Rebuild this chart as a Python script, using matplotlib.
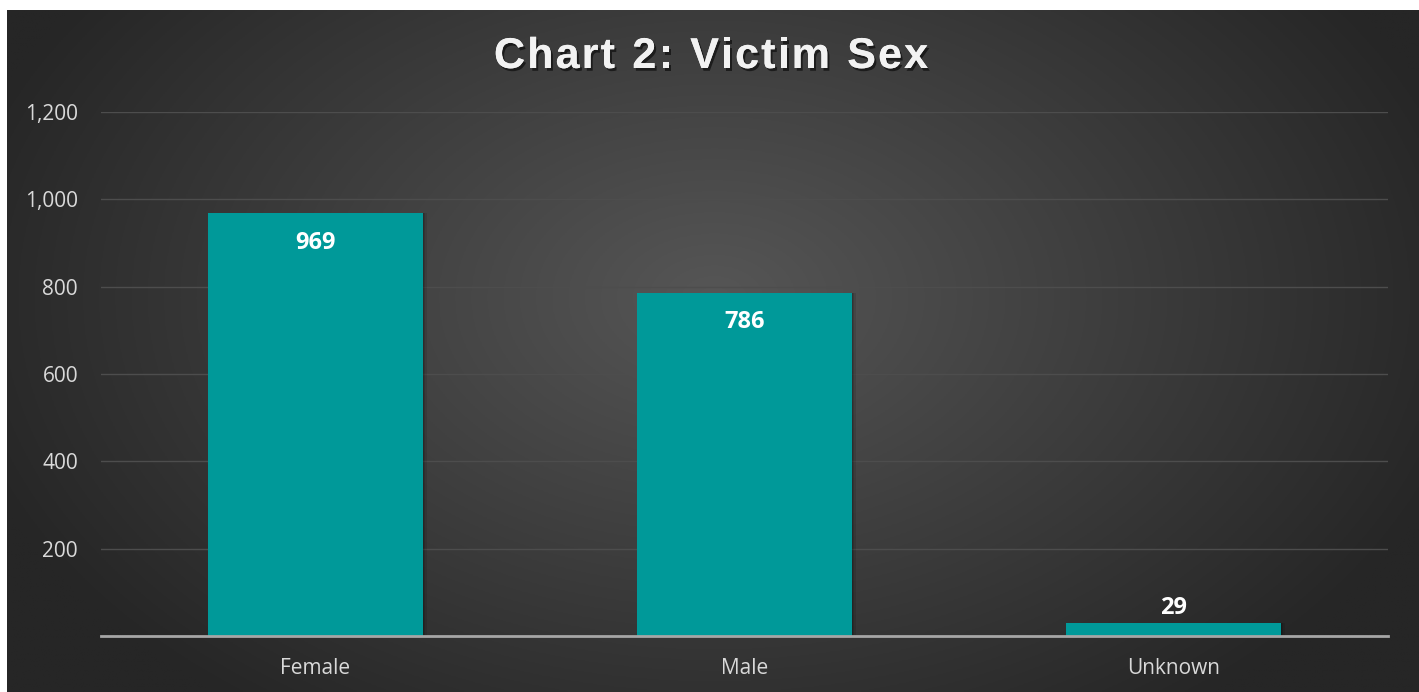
import numpy as np
import matplotlib
matplotlib.use("Agg")
import matplotlib.pyplot as plt
import matplotlib.patheffects as pe
from matplotlib.ticker import FuncFormatter

categories = ["Female", "Male", "Unknown"]
values = [969, 786, 29]
yticks = [200, 400, 600, 800, 1000, 1200]
title = "Chart 2: Victim Sex"

W, H, DPI = 1419, 692, 100
fig = plt.figure(figsize=(W / DPI, H / DPI), dpi=DPI, facecolor="white")

# background panel with radial gradient
bx0, by0 = 7 / W, 0.0
bw, bh = 1 - bx0, 1 - 10 / H
bg = fig.add_axes([bx0, by0, bw, bh])
bg.set_axis_off()
ny, nx = 300, 600
yy, xx = np.mgrid[0:ny, 0:nx]
cx, cy = nx * 0.5, ny * 0.42
r = np.sqrt(((xx - cx) / (nx * 0.55)) ** 2 + ((yy - cy) / (ny * 0.75)) ** 2)
r = np.clip(r, 0, 1)
inner = np.array([0x56, 0x56, 0x56]) / 255
outer = np.array([0x26, 0x26, 0x26]) / 255
img = inner[None, None, :] * (1 - r[..., None]) + outer[None, None, :] * r[..., None]
bg.imshow(img, aspect="auto", extent=[0, 1, 0, 1], origin="upper")
bg.set_xlim(0, 1)
bg.set_ylim(0, 1)

# plot area
px0, px1 = 101 / W, 1388 / W
py_top, py_bot = 112 / H, 636 / H
ax = fig.add_axes([px0, 1 - py_bot, px1 - px0, py_bot - py_top])
ax.set_facecolor("none")
ax.patch.set_alpha(0)

x = np.arange(len(categories))
# soft shadow
for k, a in [(0.010, 0.10), (0.006, 0.12), (0.003, 0.15)]:
    ax.bar(x + k, values, width=0.5, color="black", alpha=a, zorder=2, linewidth=0)
bars = ax.bar(x, values, width=0.5, color="#009999", zorder=3, linewidth=0)

ax.set_xlim(-0.5, len(categories) - 0.5)
ax.set_ylim(0, 1200)
ax.set_yticks(yticks)
ax.yaxis.set_major_formatter(FuncFormatter(lambda v, p: f"{int(v):,}"))
ax.set_xticks(x)
ax.set_xticklabels(categories)
ax.grid(axis="y", color="#4d4d4d", linewidth=1.0, zorder=0)
ax.set_axisbelow(True)
for s in ["top", "right", "left"]:
    ax.spines[s].set_visible(False)
ax.spines["bottom"].set_color("#a6a6a6")
ax.spines["bottom"].set_linewidth(2)
ax.spines["bottom"].set_zorder(4)
ax.tick_params(axis="both", length=0, colors="#d9d9d9", labelsize=15)
ax.tick_params(axis="y", pad=16.5)
ax.tick_params(axis="x", pad=15.5)
for lab in ax.get_xticklabels() + ax.get_yticklabels():
    lab.set_fontfamily("Open Sans")
    lab.set_color("#d9d9d9")

for xi, v in zip(x, values):
    if v > 100:
        ax.text(xi, v - 68, f"{v}", ha="center", va="center", color="white",
                fontsize=17, fontweight="bold", family="Open Sans", zorder=5)
    else:
        ax.text(xi, v + 36, f"{v}", ha="center", va="center", color="white",
                fontsize=17, fontweight="bold", family="Open Sans", zorder=5)

# letter-spaced title, drawn character by character
fig.canvas.draw()
renderer = fig.canvas.get_renderer()
tsize = 31
tprops = dict(color="#f2f2f2", fontsize=tsize, fontweight="bold", family="Liberation Sans",
              va="center", ha="left")
target_w = 434.0
widths = []
for ch in title:
    tt = fig.text(0, 0, ch if ch != " " else "n", **tprops)
    w = tt.get_window_extent(renderer).width
    if ch == " ":
        w *= 0.5
    widths.append(w)
    tt.remove()
gap = (target_w - sum(widths)) / (len(title) - 1)
xpos = 494.0
ypix = H - 57
shadow = [pe.withSimplePatchShadow(offset=(1.5, -2), shadow_rgbFace="black", alpha=0.55), pe.Normal()]
for ch, w in zip(title, widths):
    if ch != " ":
        t = fig.text(xpos / W, ypix / H, ch, **tprops)
        t.set_path_effects(shadow)
    xpos += w + gap

fig.savefig("out.png", dpi=DPI, facecolor="white")
